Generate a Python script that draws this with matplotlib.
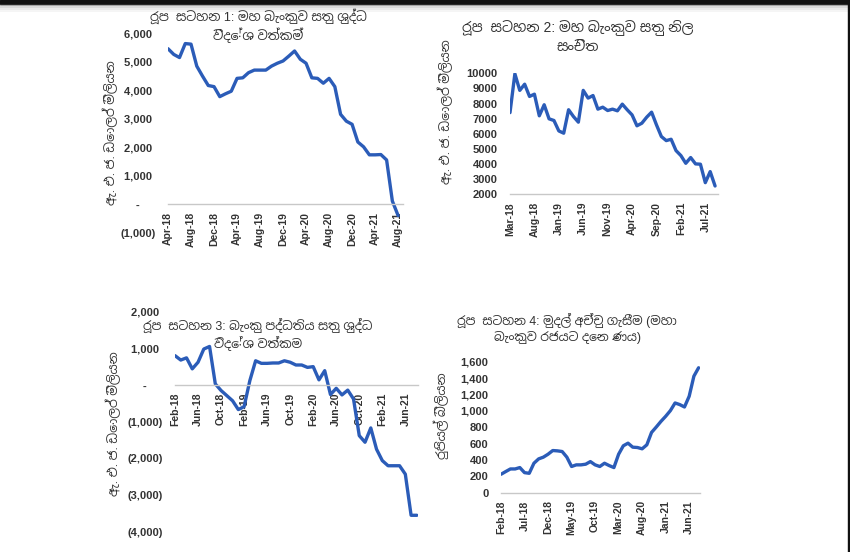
import matplotlib
matplotlib.use('Agg')
import matplotlib.pyplot as plt
from matplotlib.patches import Rectangle
import pandas as pd

# Data (US$ mn, US$ mn, US$ mn, Rs bn)
months_cb_nfa = pd.date_range('2018-04-01', periods=41, freq='MS').strftime('%b-%y').tolist()
cb_nfa = [5460, 5260, 5150, 5640, 5620, 4850, 4500, 4170, 4130, 3780, 3880, 3970,
          4420, 4440, 4620, 4710, 4710, 4710, 4850, 4950, 5030, 5200, 5380, 5090,
          4950, 4440, 4420, 4250, 4420, 4130, 3160, 2920, 2810, 2190, 2020, 1740,
          1740, 1750, 1560, 120, -390]

months_reserves = pd.date_range('2018-03-01', periods=43, freq='MS').strftime('%b-%y').tolist()
reserves = [7400, 9970, 8870, 9280, 8470, 8620, 7190, 7920, 6990, 6880, 6190, 6040,
            7590, 7140, 6770, 8870, 8360, 8530, 7630, 7760, 7540, 7630, 7520, 7960,
            7590, 7250, 6530, 6700, 7100, 7430, 6590, 5820, 5550, 5640, 4890, 4560,
            4050, 4430, 4010, 3990, 2770, 3500, 2550]

months_bank_nfa = pd.date_range('2018-02-01', periods=43, freq='MS').strftime('%b-%y').tolist()
bank_nfa = [800, 680, 740, 440, 620, 980, 1050, 30, -150, -290, -430,
            -670, -590, 120, 660, 590, 590, 600, 600, 660, 620, 545, 545,
            480, 500, 140, 390, -260, -90, -270, -140, -380, -1380, -1560, -1170,
            -1750, -2060, -2200, -2200, -2200, -2430, -3550, -3550]

months_printing = pd.date_range('2018-02-01', periods=43, freq='MS').strftime('%b-%y').tolist()
printing = [225, 258, 290, 290, 307, 245, 237, 360, 413, 434, 470,
            515, 511, 503, 434, 320, 340, 340, 348, 380, 340, 320, 360,
            331, 307, 470, 573, 605, 556, 552, 536, 585, 736, 802, 871,
            933, 1002, 1096, 1076, 1047, 1178, 1423, 1526]

titles = [
    ('රූප  සටහන 1: මහ බැංකුව සතු ශුද්ධ', 'විදේශ වත්කම්'),
    ('රූප  සටහන 2: මහ බැංකුව සතු නිල', 'සංචිත'),
    ('රූප  සටහන 3: බැංකු පද්ධතිය සතු ශුද්ධ', 'විදේශ වත්කම'),
    ('රූප  සටහන 4: මුදල් අච්චු ගැසීම (මහා', 'බැංකුව රජයට දෙන ණය)'),
]
ylab_usd = 'ඇ. එ. ජ. ඩොලර් මිලියන'
ylab_rs = 'රුපියල් බිලියන'

# Latin from Liberation Sans, Sinhala falls through to Noto
si_fam = ['Liberation Sans', 'Noto Sans Sinhala UI', 'Noto Sans Sinhala', 'DejaVu Sans']

blue = '#2b5cb8'
grid = '#c8c8c8'
txt = '#333333'
num_font = dict(family='Liberation Sans', weight='bold', color=txt)

W, H = 850, 552
fig = plt.figure(figsize=(W / 100, H / 100), dpi=100)


def px_axes(x0, x1, ytop, ybot):
    return fig.add_axes([x0 / W, 1 - ybot / H, (x1 - x0) / W, (ybot - ytop) / H])


def acct(v):
    if abs(v) < 1e-9:
        return '-     '
    if v < 0:
        return f'({abs(v):,.0f})'
    return f'{v:,.0f} '


def style(ax, months, step, yticks, ylabels, xmax, x0=0):
    for s in ['top', 'right', 'left']:
        ax.spines[s].set_visible(False)
    ax.spines['bottom'].set_color(grid)
    ax.spines['bottom'].set_linewidth(1)
    ax.spines['bottom'].set_position(('data', x0))
    ax.set_xlim(0, xmax)
    pos = list(range(0, len(months), step))
    ax.set_xticks(pos)
    ax.set_xticklabels([months[p] for p in pos], rotation=90, fontsize=7.5, **num_font)
    ax.set_yticks(yticks)
    ax.set_yticklabels(ylabels, fontsize=8, **num_font)
    ax.tick_params(axis='both', length=0)
    ax.tick_params(axis='x', pad=5.5)
    ax.tick_params(axis='y', pad=9)
    ax.patch.set_alpha(0)


# Panel 1: central bank net foreign assets
ax1 = px_axes(168, 403, 33.3, 233)
ax1.plot(range(len(cb_nfa)), cb_nfa, color=blue, lw=2.4, solid_capstyle='round')
ax1.set_ylim(-1000, 6000)
t1 = list(range(-1000, 6001, 1000))
style(ax1, months_cb_nfa, 4, t1, [acct(v) for v in t1], len(cb_nfa) - 1 + 0.85)

# Panel 2: official reserves
ax2 = px_axes(510, 718, 73.3, 194.3)
ax2.plot(range(len(reserves)), reserves, color=blue, lw=2.4, solid_capstyle='round')
ax2.set_ylim(2000, 10000)
t2 = list(range(2000, 10001, 1000))
style(ax2, months_reserves, 5, t2, [str(v) for v in t2], len(reserves) - 1 + 0.6, x0=2000)

# Panel 3: banking system net foreign assets
ax3 = px_axes(175, 418, 311.6, 531.8)
ax3.plot(range(len(bank_nfa)), bank_nfa, color=blue, lw=2.4, solid_capstyle='round')
ax3.set_ylim(-4000, 2000)
t3 = list(range(-4000, 2001, 1000))
style(ax3, months_bank_nfa, 4, t3, [acct(v) for v in t3], len(bank_nfa) - 1 + 0.2)

# Panel 4: money printing
ax4 = px_axes(501, 700, 361.7, 492.7)
ax4.plot(range(len(printing)), printing, color=blue, lw=2.4, solid_capstyle='round')
ax4.set_ylim(0, 1600)
t4 = list(range(0, 1601, 200))
style(ax4, months_printing, 5, t4, [f'{v:,}' for v in t4], len(printing) - 1 + 0.3)

# titles (two lines each) and y labels
title_pos = [(258, 16, 35, 9.1), (578, 26.7, 46.7, 10), (258, 325, 343.3, 8.9), (567, 320.7, 337, 8.9)]
for (l1, l2), (cx, y1, y2, fs) in zip(titles, title_pos):
    fig.text(cx / W, 1 - y1 / H, l1, ha='center', va='center', fontsize=fs, color=txt, family=si_fam)
    fig.text(cx / W, 1 - y2 / H, l2, ha='center', va='center', fontsize=fs, color=txt, family=si_fam)

for lab, (cx, cy) in [(ylab_usd, (110, 133)), (ylab_usd, (445, 112)),
                      (ylab_usd, (113, 424)), (ylab_rs, (441, 416))]:
    fig.text(cx / W, 1 - cy / H, lab, ha='center', va='center', rotation=90,
             fontsize=9, color=txt, family=si_fam)

# dark frame of the screenshot: top band and right edge
fig.patches.append(Rectangle((0, 1 - 4 / H), 1, 4 / H, transform=fig.transFigure,
                             color='#111111', zorder=10))
for i, a in enumerate([0.35, 0.22, 0.12, 0.06]):
    fig.patches.append(Rectangle((0, 1 - (6 + 2 * i) / H), 1, 2 / H, transform=fig.transFigure,
                                 color='#555555', alpha=a, lw=0, zorder=10))
fig.patches.append(Rectangle((1 - 2.5 / W, 0), 2.5 / W, 1, transform=fig.transFigure,
                             color='#111111', zorder=10))

fig.savefig('out.png', dpi=100, facecolor='white')
